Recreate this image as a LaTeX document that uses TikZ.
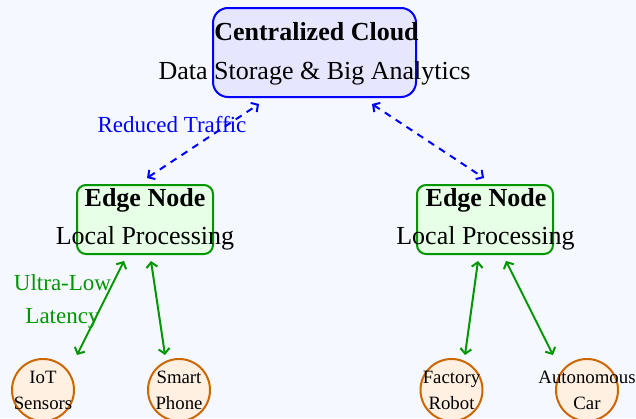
\documentclass[tikz,border=0pt]{standalone}
\usepackage{fontspec}
\setmainfont{Liberation Serif}
\usetikzlibrary{arrows.meta}
\definecolor{bg}{RGB}{245,249,255}
\definecolor{cloudfill}{RGB}{230,230,255}
\definecolor{edgefill}{RGB}{230,255,230}
\definecolor{devfill}{RGB}{255,240,226}
\definecolor{devline}{RGB}{204,102,0}
\definecolor{grn}{RGB}{0,150,0}
\tikzset{
  cloudbox/.style={draw=blue, fill=cloudfill, line width=2pt, rounded corners=15pt, minimum width=203pt, minimum height=89pt, inner sep=0pt},
  edgebox/.style={draw=grn, fill=edgefill, line width=2pt, rounded corners=9pt, minimum width=136pt, minimum height=69pt, inner sep=0pt},
  devcirc/.style={circle, draw=devline, fill=devfill, line width=2pt, minimum size=62pt, inner sep=0pt},
  bigtxt/.style={anchor=base, inner sep=0pt, font=\fontsize{26}{31}\selectfont},
  bigbold/.style={bigtxt, font=\fontsize{26}{31}\selectfont\bfseries},
  labtxt/.style={anchor=base, inner sep=0pt, font=\fontsize{23}{28}\selectfont},
  devtxt/.style={anchor=base, inner sep=0pt, font=\fontsize{18.8}{22}\selectfont},
  tip/.style={},
  trafficarrow/.style={draw=blue, line width=2pt, dash pattern=on 7pt off 6pt, {Straight Barb[length=5pt,width=11pt]}-{Straight Barb[length=5pt,width=11pt]}},
  latarrow/.style={draw=grn, line width=2pt, {Straight Barb[length=5pt,width=11pt]}-{Straight Barb[length=5pt,width=11pt]}}
}
\begin{document}
\begin{tikzpicture}[x=1pt,y=-1pt]
\useasboundingbox[fill=bg] (0,0) rectangle (636,418);
% cloud
\node[cloudbox] (cloud) at (314.5,52.5) {};
\node[bigbold] (cloudt) at (316.5,40) {Centralized Cloud};
\node[bigtxt] (clouds) at (314.5,79) {Data Storage \& Big Analytics};
% edge nodes
\node[edgebox] (edgeL) at (145,219.5) {};
\node[bigbold] (edgeLt) at (145,206) {Edge Node};
\node[bigtxt] (edgeLs) at (145,244) {Local Processing};
\node[edgebox] (edgeR) at (485,219.5) {};
\node[bigbold] (edgeRt) at (486,206) {Edge Node};
\node[bigtxt] (edgeRs) at (485.5,244) {Local Processing};
% devices
\node[devcirc] (iot) at (43,390) {};
\node[devtxt] (iot1) at (43,383) {IoT};
\node[devtxt] (iot2) at (43,409) {Sensors};
\node[devcirc] (phone) at (179,390) {};
\node[devtxt] (phone1) at (179,383) {Smart};
\node[devtxt] (phone2) at (179,409) {Phone};
\node[devcirc] (robot) at (451.5,390) {};
\node[devtxt] (robot1) at (451.5,383) {Factory};
\node[devtxt] (robot2) at (451.5,409) {Robot};
\node[devcirc] (car) at (587,390) {};
\node[devtxt] (car1) at (587,383) {Autonomous};
\node[devtxt] (car2) at (587,409) {Car};
% labels
\node[labtxt, text=blue] (traffic) at (172,132) {Reduced Traffic};
\node[labtxt, text=grn] (lat1) at (62.5,290) {Ultra-Low};
\node[labtxt, text=grn] (lat2) at (62.5,323) {Latency};
% arrow end points
\coordinate (cL) at (259,104);
\coordinate (cR) at (372,104);
\coordinate (eLt) at (147,178);
\coordinate (eRt) at (484,178);
\coordinate (eL1) at (124,261);
\coordinate (eL2) at (151,261);
\coordinate (eR1) at (478,261);
\coordinate (eR2) at (506,261);
\coordinate (iotT) at (77,355);
\coordinate (phoneT) at (165,355);
\coordinate (robotT) at (465,355);
\coordinate (carT) at (553,355);
% connectors
\draw[trafficarrow] (eLt) -- (cL);
\draw[trafficarrow] (cR) -- (eRt);
\draw[latarrow] (eL1) -- (iotT);
\draw[latarrow] (eL2) -- (phoneT);
\draw[latarrow] (eR1) -- (robotT);
\draw[latarrow] (eR2) -- (carT);
\end{tikzpicture}
\end{document}
